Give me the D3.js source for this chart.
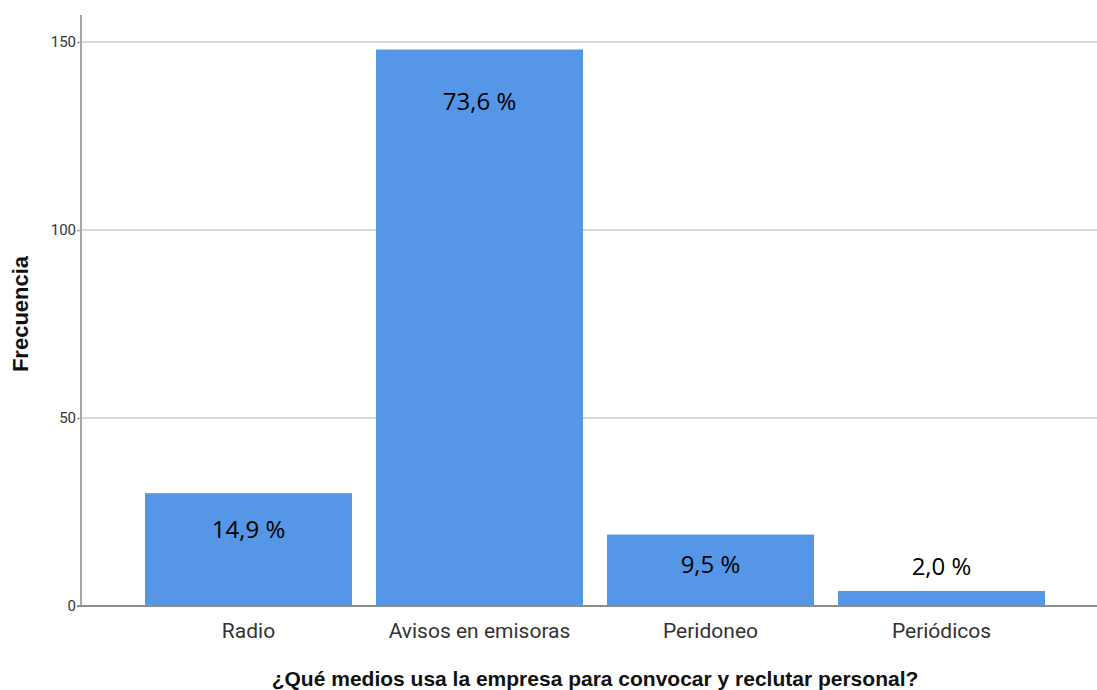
<!DOCTYPE html>
<html><head><meta charset="utf-8">
<script src="https://cdn.jsdelivr.net/npm/d3@7"></script>
<style>body{margin:0;background:#fff}</style>
</head><body>
<svg id="c" width="1097" height="690"></svg>
<script>
const categories = ["Radio", "Avisos en emisoras", "Peridoneo", "Periódicos"];
const counts = [30, 148, 19, 4];
const percentLabels = ["14,9 %", "73,6 %", "9,5 %", "2,0 %"];
const yTicks = [0, 50, 100, 150];

const narrow = "Roboto, 'Liberation Sans', Arial, sans-serif";
const svg = d3.select("#c");
const mLeft = 81, mRight = 1097, mTop = 15, mBottom = 606;
const y = d3.scaleLinear().domain([0, 150]).range([mBottom, 42]);
const x = d3.scaleBand().domain(categories).range([133, 1057]).paddingInner(0.104).paddingOuter(0.052);

// gridlines
svg.append("g").selectAll("line").data(yTicks.filter(d => d > 0)).join("line")
  .attr("x1", mLeft).attr("x2", mRight).attr("y1", d => y(d)).attr("y2", d => y(d))
  .attr("stroke", "#d9d9d9").attr("stroke-width", 2);

// bars
svg.append("g").selectAll("rect").data(counts).join("rect")
  .attr("x", (d, i) => x(categories[i]))
  .attr("width", x.bandwidth())
  .attr("y", d => y(d))
  .attr("height", d => mBottom - y(d))
  .attr("fill", "#5596e6");

// y axis
const ya = svg.append("g").attr("transform", `translate(${mLeft},0)`)
  .call(d3.axisLeft(y).tickValues(yTicks).tickSize(4).tickPadding(1));
ya.select(".domain").attr("d", `M0,${mTop}V${mBottom}`).attr("stroke", "#a6a6a6").attr("stroke-width", 2);
ya.selectAll(".tick line").attr("stroke", "#a6a6a6").attr("stroke-width", 1.5);
ya.selectAll(".tick text").attr("font-family", narrow).attr("font-size", 15).attr("fill", "#333");

// x axis line
svg.append("line").attr("x1", mLeft - 4).attr("x2", mRight).attr("y1", mBottom).attr("y2", mBottom)
  .attr("stroke", "#8c8c8c").attr("stroke-width", 2);

// category labels
const xa = svg.append("g").attr("transform", `translate(0,${mBottom})`)
  .call(d3.axisBottom(x).tickSize(0).tickPadding(17));
xa.select(".domain").remove();
xa.selectAll(".tick text").attr("font-family", narrow).attr("font-size", 21).attr("fill", "#333");

// percent labels
svg.append("g").selectAll("text").data(counts).join("text")
  .attr("x", (d, i) => x(categories[i]) + x.bandwidth() / 2)
  .attr("y", d => {
    const h = mBottom - y(d);
    return h > 40 ? y(d) + Math.min(60.5, 28 + 0.15 * h) : y(d) - 16;
  })
  .attr("text-anchor", "middle")
  .attr("font-family", "'Open Sans', Carlito, Lato, sans-serif")
  .attr("font-size", 24).attr("fill", "#000")
  .text((d, i) => percentLabels[i]);

// axis titles
svg.append("text").attr("transform", `translate(28,314) rotate(-90)`)
  .attr("text-anchor", "middle").attr("font-family", "Liberation Sans, Arial, sans-serif")
  .attr("font-weight", "bold").attr("font-size", 22).attr("fill", "#111").text("Frecuencia");
svg.append("text").attr("x", 595).attr("y", 686)
  .attr("text-anchor", "middle").attr("font-family", "Liberation Sans, Arial, sans-serif")
  .attr("font-weight", "bold").attr("font-size", 21).attr("fill", "#111")
  .text("¿Qué medios usa la empresa para convocar y reclutar personal?");
</script>
</body></html>
